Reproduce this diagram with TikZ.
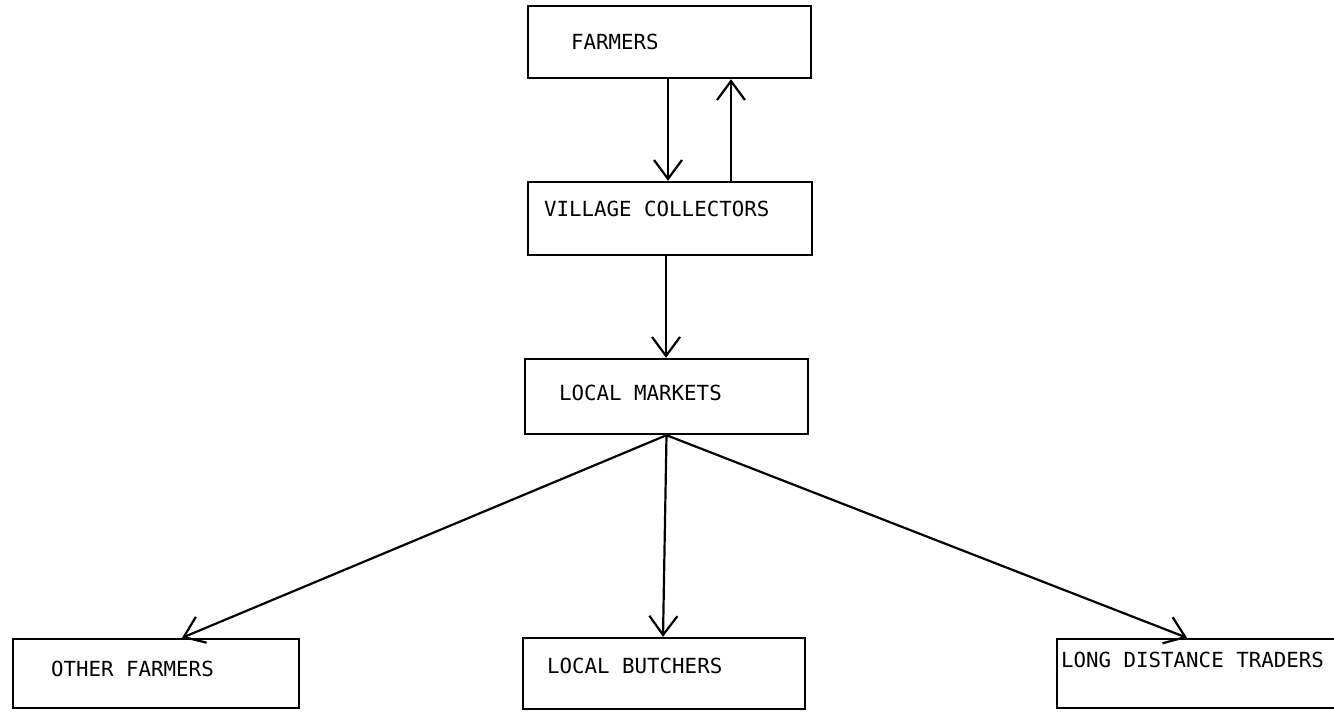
\documentclass[tikz,border=0pt]{standalone}
\usepackage{fontspec}
\setmonofont{DejaVu Sans Mono}
\usetikzlibrary{arrows.meta}

\begin{document}
\begin{tikzpicture}[x=1pt,y=-1pt]
\tikzstyle{box}=[draw,rectangle,line width=2.4pt,inner sep=0pt];
\tikzstyle{lbl}=[anchor=west,inner sep=0pt,font=\ttfamily\fontsize{20.8}{24}\selectfont];
\tikzstyle{flow}=[line width=2.2pt,-{Straight Barb[length=19pt,width=28pt]}];
\useasboundingbox (0,0) rectangle (1334,712);
\clip (0,0) rectangle (1334,712);

\node[box,minimum width=283pt,minimum height=72pt] (farmers) at (669.5,42) {};
\node[box,minimum width=284pt,minimum height=73pt] (vc) at (670,218.5) {};
\node[box,minimum width=283pt,minimum height=75pt] (lm) at (666.5,396.5) {};
\node[box,minimum width=286pt,minimum height=69pt] (of) at (156,673.5) {};
\node[box,minimum width=282pt,minimum height=71pt] (lb) at (664,673.5) {};
\node[box,minimum width=330pt,minimum height=69pt] (ldt) at (1222,673.5) {};

\node[lbl] (farmersT) at ([xshift=44pt]farmers.west) {FARMERS};
\node[lbl] (vcT) at ([xshift=17pt,yshift=10pt]vc.west) {VILLAGE COLLECTORS};
\node[lbl] (lmT) at ([xshift=35pt,yshift=3.5pt]lm.west) {LOCAL MARKETS};
\node[lbl] (ofT) at ([xshift=39pt,yshift=4.5pt]of.west) {OTHER FARMERS};
\node[lbl] (lbT) at ([xshift=25pt,yshift=7.5pt]lb.west) {LOCAL BUTCHERS};
\node[lbl] (ldtT) at ([xshift=5pt,yshift=13.5pt]ldt.west) {LONG DISTANCE TRADERS};

\draw[flow] ([xshift=-1.5pt]farmers.south) -- ([xshift=-2pt]vc.north);
\draw[flow] ([xshift=61pt]vc.north) -- ([xshift=61.5pt]farmers.south);
\draw[flow] ([xshift=-4pt]vc.south) -- ([xshift=-0.5pt]lm.north);
\draw[flow] (lm.south) -- ([xshift=26pt]of.north);
\draw[flow] (lm.south) -- ([xshift=-1pt]lb.north);
\draw[flow] (lm.south) -- ([xshift=-35pt]ldt.north);
\end{tikzpicture}
\end{document}
